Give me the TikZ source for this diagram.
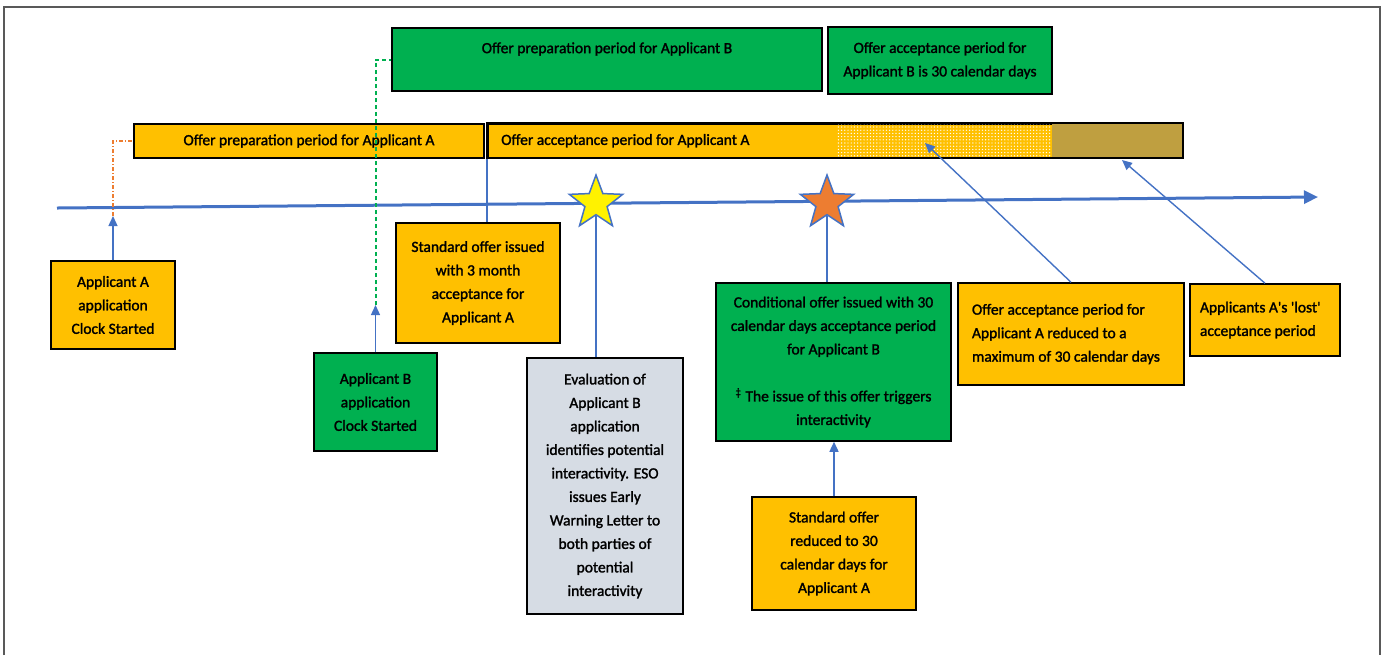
\documentclass[tikz,border=0pt]{standalone}
\usepackage{fontspec}
\setmainfont{Carlito}[FakeBold=1.6]
\usetikzlibrary{shapes.geometric,arrows.meta,patterns.meta}
\definecolor{accent}{HTML}{4472C4}
\definecolor{amber}{HTML}{FFC000}
\definecolor{leaf}{HTML}{00B050}
\definecolor{rust}{HTML}{ED7D31}
\definecolor{olive}{HTML}{BF9F40}
\definecolor{slate}{HTML}{D6DCE4}
\definecolor{frameline}{HTML}{595959}
\begin{document}
\begin{tikzpicture}[x=0.5pt, y=-0.5pt,
  every node/.style = {font=\fontsize{7.75pt}{11.75pt}\selectfont,
    align=center, inner sep=2pt},
  box/.style = {shape=rectangle, draw=black, line width=0.75pt},
  obox/.style = {box, fill=amber},
  gbox/.style = {box, fill=leaf},
  sbox/.style = {box, fill=slate},
  timestar/.style = {star, star points=5, star point ratio=2.4,
    minimum size=28pt, inner sep=0pt, draw=accent, line width=0.75pt},
  link/.style = {draw=accent, line width=0.7pt},
  feed/.style = {link, -{Triangle[length=5pt, width=4.5pt]}},
  timeline/.style = {draw=accent, line width=1.5pt, -{Triangle[length=7pt, width=6.5pt]}},
  gdash/.style = {draw=leaf, line width=1pt, dash pattern=on 2pt off 1.5pt},
  odash/.style = {draw=rust, line width=0.7pt, dash pattern=on 2pt off 1pt on 0.5pt off 1pt}]
  \useasboundingbox (0,0) rectangle (1386,655);
  \draw[frameline, line width=1pt] (4,655) -- (4,7) -- (1380,7) -- (1380,655);

  % periods
  \node[gbox, minimum width=215pt, minimum height=31.5pt] (prepB) at (607,59.5)
    {Offer preparation period for Applicant B\\\mbox{}};
  \node[gbox, minimum width=112pt, minimum height=33.5pt] (accB) at (940,60.5)
    {Offer acceptance period for\\Applicant B is 30 calendar days};
  \node[obox, minimum width=175pt, minimum height=17pt] (prepA) at (309,141)
    {Offer preparation period for Applicant A};
  \node[obox, minimum width=347.5pt, minimum height=17pt, text width=334pt,
    inner xsep=6.5pt, align=flush left, anchor=north west] (accA) at (487,123)
    {Offer acceptance period for Applicant A};
  \fill[pattern={Dots[distance=1.6pt, radius=0.35pt]}, pattern color=white]
    (836,123) rectangle (1052,157);
  \fill[olive] (1052,123) rectangle (1182,157);
  \draw[line width=0.75pt] (accA.north west) rectangle (accA.south east);

  % time axis
  \coordinate (tl0) at (57,208);
  \coordinate (tl1) at (1318,197);
  \draw[timeline] (tl0) -- (tl1);
  \node[timestar, fill=yellow] (starY) at (596,203) {};
  \node[timestar, fill=rust] (starO) at (827,203) {};

  % events
  \node[obox, minimum width=62pt, minimum height=44pt] (appA) at (113,305)
    {Applicant A\\application\\Clock Started};
  \node[gbox, minimum width=61.5pt, minimum height=49pt] (appB) at (375.5,402)
    {Applicant B\\application\\Clock Started};
  \node[obox, minimum width=82pt, minimum height=60pt] (stdA) at (478,283)
    {Standard offer issued\\with 3 month\\acceptance for\\Applicant A};
  \node[sbox, minimum width=78pt, minimum height=128pt] (evalB) at (605,486)
    {Evaluation of\\Applicant B\\application\\identifies potential\\interactivity. ESO\\issues Early\\Warning Letter to\\both parties of\\potential\\interactivity};
  \node[gbox, minimum width=117.5pt, minimum height=79pt] (condB) at (833.5,362)
    {Conditional offer issued with 30\\calendar days acceptance period\\for Applicant B\\\mbox{}\\\textsuperscript{‡} The issue of this offer triggers\\interactivity};
  \node[obox, minimum width=82pt, minimum height=56.5pt] (stdRed) at (834,553.5)
    {Standard offer\\reduced to 30\\calendar days for\\Applicant A};
  \node[obox, minimum width=113pt, minimum height=51pt, text width=99pt,
    inner xsep=7pt, align=flush left] (accRed) at (1071,334)
    {Offer acceptance period for\\Applicant A reduced to a\\maximum of 30 calendar days};
  \node[obox, minimum width=75pt, minimum height=36pt, text width=65pt,
    inner xsep=5pt, align=flush left] (lostA) at (1265,320)
    {Applicants A\textquotesingle s \textquotesingle lost\textquotesingle\\acceptance period};

  % connectors
  \coordinate (tA) at (113,216);
  \coordinate (tB) at (375.5,305);
  \coordinate (dotTip) at (925,143);
  \coordinate (lostTip) at (1122,160);
  \draw[odash] (tA) |- (prepA.west);
  \draw[gdash] (tB) |- (prepB.west);
  \draw[feed] (appA) -- (tA);
  \draw[feed] (appB) -- (tB);
  \draw[link] (accA.south west) -- (accA.south west |- stdA.north);
  \draw[link] (starY) -- (starY |- evalB.north);
  \draw[link] (starO) -- (starO |- condB.north);
  \draw[feed] (stdRed) -- (stdRed |- condB.south);
  \draw[feed] (accRed.north) -- (dotTip);
  \draw[feed] (lostA.north) -- (lostTip);
\end{tikzpicture}
\end{document}
